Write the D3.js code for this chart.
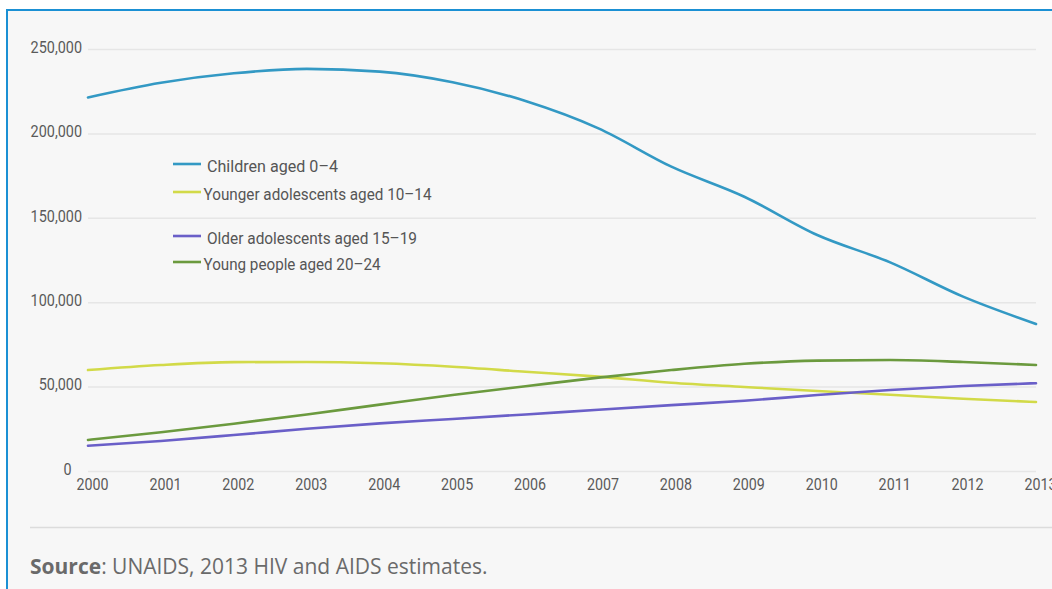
<!DOCTYPE html>
<html><head><meta charset="utf-8">
<script src="https://cdn.jsdelivr.net/npm/d3@7"></script>
<style>
html,body{margin:0;padding:0;background:#fff;}
svg{display:block;}
</style></head>
<body>
<svg id="chart" width="1052" height="589"></svg>
<script>
const years = [2000,2001,2002,2003,2004,2005,2006,2007,2008,2009,2010,2011,2012,2013];
const children0to4 = [221300,230000,235600,238200,236600,230300,219200,203000,180300,162500,139800,123600,103300,87100];
const younger10to14 = [59800,62800,64500,64600,63800,61800,58800,55900,52300,49800,47400,45200,42800,40900];
const older15to19 = [15000,17800,21300,25000,28200,30800,33500,36300,39000,41600,45000,48000,50400,52000];
const young20to24 = [18400,23000,28000,33500,39300,45000,50200,55300,59800,63500,65400,65800,64600,62800];
const seriesNames = ["Children aged 0\u20134","Younger adolescents aged 10\u201314","Older adolescents aged 15\u201319","Young people aged 20\u201324"];
const seriesColors = ["#3399c4","#d2da48","#6a5fc8","#6b9a3e"];
const yTicks = [0,50000,100000,150000,200000,250000];
const sourceLabel = "Source";
const sourceText = ": UNAIDS, 2013 HIV and AIDS estimates.";

const svg = d3.select("#chart");
const W = 1052, H = 589;
const font = "Roboto,'Liberation Sans',sans-serif";

// panel background and frame
svg.append("rect").attr("x",7).attr("y",10).attr("width",W-7).attr("height",H-10).attr("fill","#f7f7f7");
svg.append("line").attr("x1",6).attr("x2",W).attr("y1",10).attr("y2",10).attr("stroke","#1b90d4").attr("stroke-width",2);
svg.append("line").attr("x1",7).attr("x2",7).attr("y1",9).attr("y2",H).attr("stroke","#1b90d4").attr("stroke-width",2);

const x = d3.scaleLinear().domain([2000,2013]).range([88,1036]);
const y = d3.scaleLinear().domain([0,250000]).range([471,49]);

// y axis with gridlines
const yScaleX = 0.9;
const yAxis = d3.axisLeft(y).tickValues(yTicks).tickFormat(d3.format(",")).tickSize(-(1036-88)).tickPadding(6);
const gy = svg.append("g").attr("transform","translate(88,0)").call(yAxis);
gy.select(".domain").remove();
gy.selectAll(".tick line").attr("stroke","#e6e6e6").attr("stroke-width",1.5);
gy.selectAll(".tick text").attr("fill","#5a5a5a").attr("font-family",font).attr("font-size",16)
  .attr("x",-6/yScaleX).attr("dy","0.2em").attr("transform",`scale(${yScaleX},1)`);
gy.selectAll(".tick").filter(d=>d===0).select("text").attr("x",-16.5/yScaleX).attr("dy","0.2em");

// x axis
const xScaleX = 0.84;
const xAxis = d3.axisBottom(x).tickValues(years).tickFormat(d3.format("d")).tickSize(0).tickPadding(7);
const gx = svg.append("g").attr("transform","translate(4,471)").call(xAxis);
gx.select(".domain").remove();
gx.selectAll(".tick text").attr("fill","#5a5a5a").attr("font-family",font).attr("font-size",17)
  .attr("transform",`scale(${xScaleX},1)`);

// lines
const allSeries = [children0to4, younger10to14, older15to19, young20to24];
const line = d3.line().x((d,i)=>x(years[i])).y(d=>y(d)).curve(d3.curveMonotoneX);
const drawOrder = [1,2,3,0];
drawOrder.forEach(k=>{
  svg.append("path").datum(allSeries[k]).attr("d",line).attr("fill","none")
    .attr("stroke",seriesColors[k]).attr("stroke-width",2.6).attr("stroke-linejoin","round").attr("stroke-linecap","round");
});

// legend
const legendLineY = [164,192,236,262];
const legendTextX = [207,203.5,207,203.5];
const legendTextW = [131,228,210,177];
seriesNames.forEach((n,i)=>{
  svg.append("line").attr("x1",173).attr("x2",201).attr("y1",legendLineY[i]).attr("y2",legendLineY[i])
    .attr("stroke",seriesColors[i]).attr("stroke-width",2.6);
  svg.append("text").attr("x",legendTextX[i]).attr("y",legendLineY[i]+2).attr("dy","0.35em")
    .attr("fill","#555").attr("font-family",font).attr("font-size",17)
    .attr("textLength",legendTextW[i]).attr("lengthAdjust","spacingAndGlyphs").text(n);
});

// bottom separator and source
svg.append("line").attr("x1",30).attr("x2",W).attr("y1",527.5).attr("y2",527.5).attr("stroke","#dcdcdc").attr("stroke-width",1.5);
const src = svg.append("text").attr("x",30).attr("y",574).attr("fill","#6a6a6a")
  .attr("font-family","'Open Sans',sans-serif").attr("font-size",21);
src.append("tspan").attr("font-weight","bold").text(sourceLabel);
src.append("tspan").text(sourceText);
</script>
</body></html>
